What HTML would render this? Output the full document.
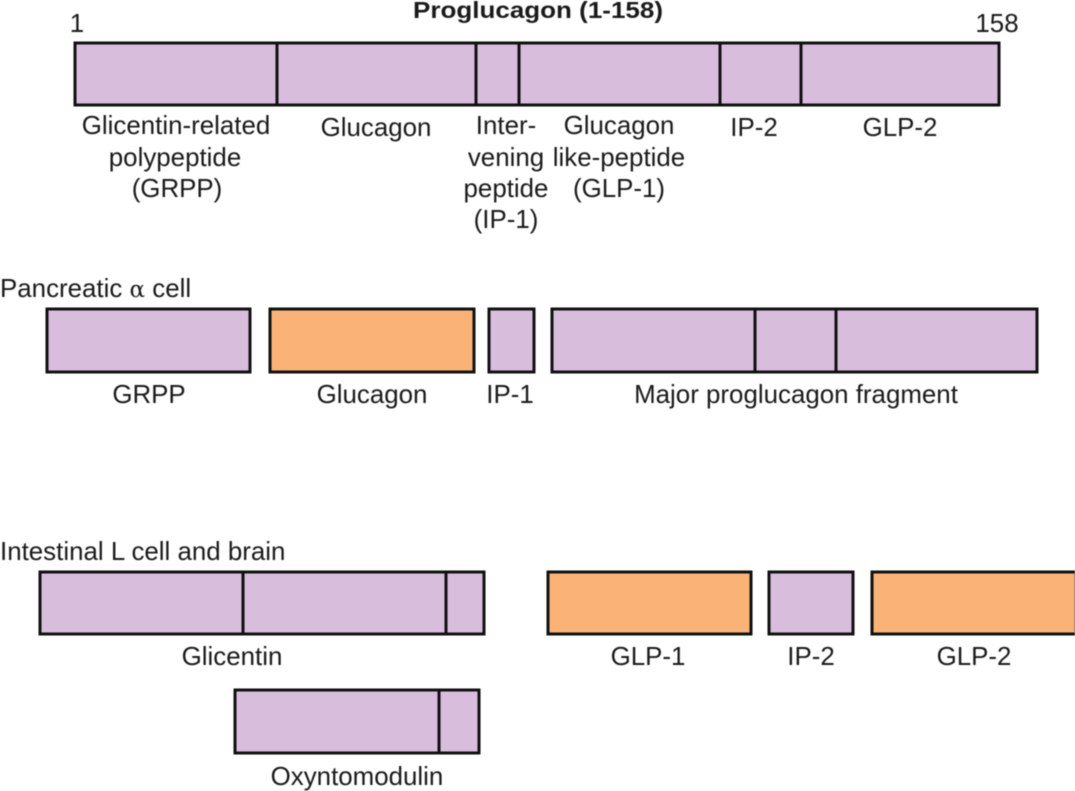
<!DOCTYPE html>
<html><head><meta charset="utf-8"><style>html,body{margin:0;padding:0;background:#fff;width:1075px;height:791px;overflow:hidden}svg{display:block;filter:blur(0.4px)}text{font-family:"Liberation Sans",sans-serif;font-size:25.9px;fill:#1a1a1a;text-anchor:middle}.l{text-anchor:start}rect{stroke:#111;stroke-width:3}.p{fill:#d8bddc}.o{fill:#fbb276}line{stroke:#111;stroke-width:3}</style></head><body>
<svg width="1075" height="791" viewBox="0 0 1075 791" xmlns="http://www.w3.org/2000/svg">
<text x="538" y="18" style="font-weight:bold;font-size:23.5px" textLength="250" lengthAdjust="spacingAndGlyphs">Proglucagon (1-158)</text>
<text x="77" y="32">1</text><text x="997" y="32">158</text>
<rect class="p" x="75" y="43" width="924" height="62"/>
<line x1="277" y1="43" x2="277" y2="105"/><line x1="476" y1="43" x2="476" y2="105"/><line x1="519" y1="43" x2="519" y2="105"/><line x1="720" y1="43" x2="720" y2="105"/><line x1="801" y1="43" x2="801" y2="105"/>
<text x="176" y="134">Glicentin-related</text><text x="175" y="166">polypeptide</text><text x="177" y="197">(GRPP)</text>
<text x="376" y="136">Glucagon</text>
<text x="506" y="134">Inter-</text><text x="506" y="166">vening</text><text x="506" y="197">peptide</text><text x="506" y="228">(IP-1)</text>
<text x="619" y="134">Glucagon</text><text x="619" y="166">like-peptide</text><text x="619" y="197">(GLP-1)</text>
<text x="754" y="136">IP-2</text><text x="900" y="136">GLP-2</text>
<text class="l" x="0" y="297">Pancreatic <tspan style="font-family:'DejaVu Serif',serif;font-size:23px">α</tspan> cell</text>
<rect class="p" x="47" y="309" width="203" height="63"/>
<rect class="o" x="270" y="309" width="204" height="63"/>
<rect class="p" x="489" y="309" width="45" height="63"/>
<rect class="p" x="552" y="309" width="485" height="63"/>
<line x1="755" y1="309" x2="755" y2="372"/><line x1="836" y1="309" x2="836" y2="372"/>
<text x="149" y="403">GRPP</text><text x="372" y="403">Glucagon</text><text x="510" y="403">IP-1</text><text x="796" y="403">Major proglucagon fragment</text>
<text class="l" x="0" y="560">Intestinal L cell and brain</text>
<rect class="p" x="40" y="572" width="444" height="62"/>
<line x1="243" y1="572" x2="243" y2="634"/><line x1="446" y1="572" x2="446" y2="634"/>
<rect class="o" x="548" y="572" width="203" height="62"/>
<rect class="p" x="769" y="572" width="84" height="62"/>
<rect class="o" x="872" y="572" width="204" height="62"/>
<text x="232" y="665">Glicentin</text><text x="648" y="665">GLP-1</text><text x="811" y="665">IP-2</text><text x="974" y="665">GLP-2</text>
<rect class="p" x="235" y="690" width="244" height="63"/>
<line x1="439" y1="690" x2="439" y2="753"/>
<text x="357" y="785">Oxyntomodulin</text>
</svg></body></html>
